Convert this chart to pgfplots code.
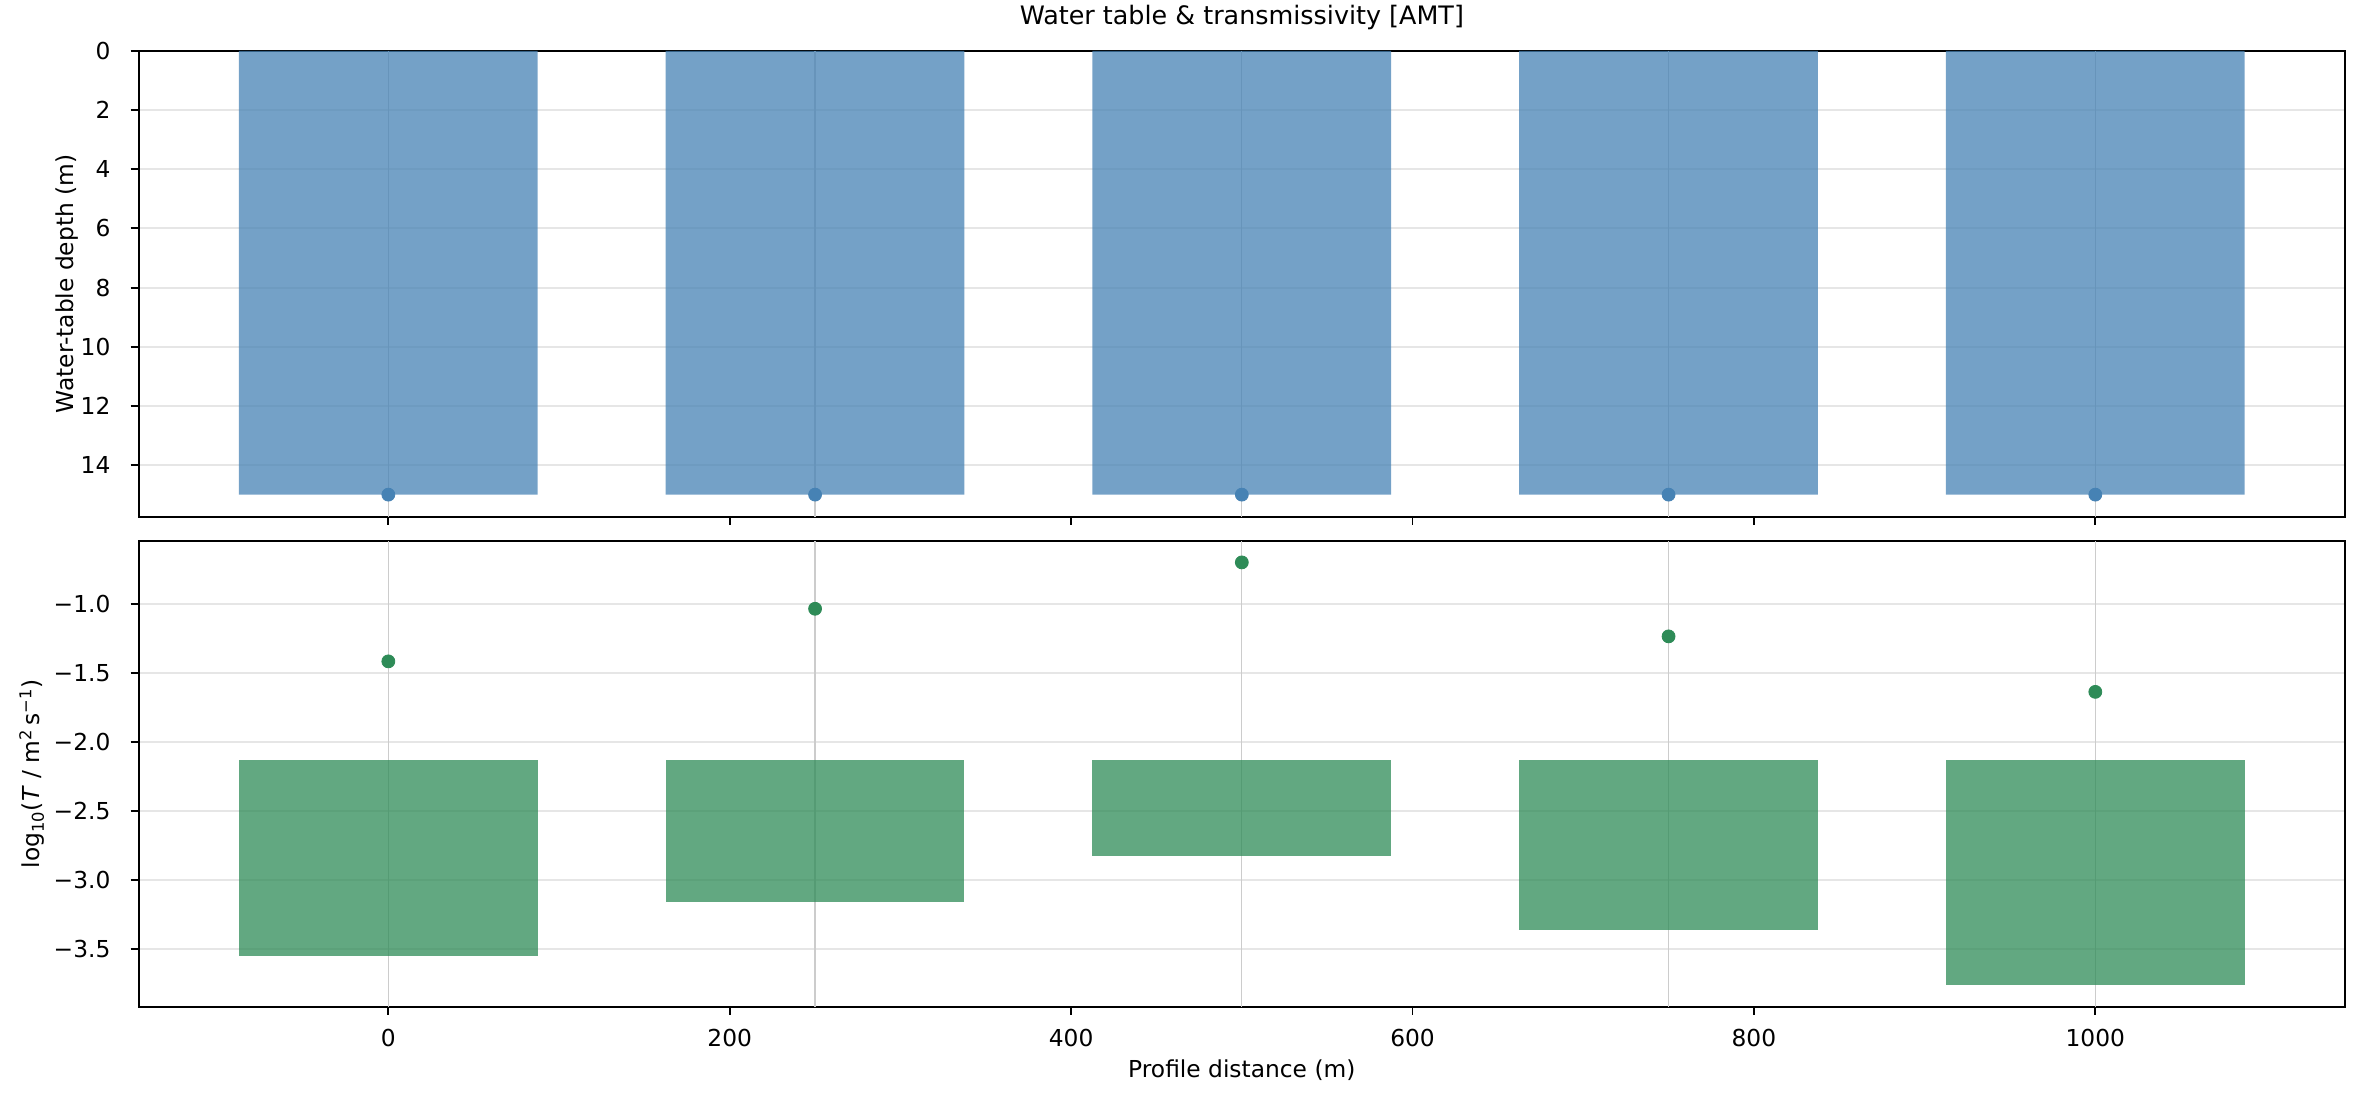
\documentclass[border=0pt]{standalone}
\usepackage{pgfplots}
\pgfplotsset{compat=1.18}
\usepackage{fontspec}
\setmainfont{DejaVu Sans}
\definecolor{steelblue}{RGB}{70,130,180}
\definecolor{seagreen}{RGB}{46,139,87}
\definecolor{gridc}{RGB}{230,230,230}
\definecolor{vlinec}{RGB}{204,204,204}
\newcommand\tf{\fontsize{11.2bp}{13.4bp}\selectfont}
\newcommand\ttf{\fontsize{12.2bp}{14.6bp}\selectfont}
\begin{document}
\begin{tikzpicture}
\useasboundingbox (-66.58bp,-44.78bp) rectangle (1066.22bp,483.22bp);
\pgfplotsset{
 common/.style={
  scale only axis, width=1059bp, height=223.6bp,
  xmin=-146.25, xmax=1146.25,
  axis line style={line width=0.9bp},
  every tick/.style={line width=0.9bp, black},
  tick align=outside, major tick length=3.9bp,
  xtick pos=left, ytick pos=left,
  xtick={0,200,400,600,800,1000},
  ymajorgrids, major grid style={gridc, line width=0.9bp},
  extra x ticks={0,250,500,750,1000},
  extra x tick labels={},
  extra x tick style={grid=major, major grid style={vlinec, line width=0.6bp}, major tick length=0pt},
  tick label style={font=\tf},
  xticklabel style={anchor=base, inner sep=0pt, yshift=-15.4bp},
  yticklabel style={anchor=east, inner sep=0pt, xshift=-9.5bp},
  /pgf/number format/assume math mode=true,
  every axis x label/.style={at={(axis description cs:0.5,0)}, anchor=base, inner sep=0pt, yshift=-34.1bp, font=\tf},
 }
}
\begin{axis}[common, at={(0,235.15bp)}, anchor=south west,
  y dir=reverse, ymin=0, ymax=15.75,
  ytick={0,2,4,6,8,10,12,14}, yticklabels={0,2,4,6,8,10,12,14},
  xticklabels={},
  every axis y label/.style={at={(axis description cs:-0.02965,0.5)}, rotate=90, anchor=base, inner sep=0pt, font=\tf},
  ylabel={Water-table depth (m)},
  title style={at={(axis description cs:0.5,1)}, anchor=base, inner sep=0pt, yshift=6.86bp, font=\ttf},
  title={Water table \& transmissivity [AMT]},
]
\addplot[ybar, bar width=175, bar shift=0, fill=steelblue, fill opacity=0.75, draw=none]
  coordinates {(0,15) (250,15) (500,15) (750,15) (1000,15)};
\addplot[only marks, mark=*, mark size=3.1bp, mark options={fill=steelblue, draw=steelblue}]
  coordinates {(0,15) (250,15) (500,15) (750,15) (1000,15)};
\end{axis}
\begin{axis}[common, at={(0,0)}, anchor=south west,
  ymin=-3.919, ymax=-0.544,
  ytick={-3.5,-3,-2.5,-2,-1.5,-1}, yticklabels={−3.5,−3.0,−2.5,−2.0,−1.5,−1.0},
  xticklabels={0,200,400,600,800,1000},
  every axis y label/.style={at={(axis description cs:-0.04495,0.5)}, rotate=90, anchor=base, inner sep=0pt, font=\tf},
  ylabel={log\textsubscript{10}(\textit{T} / m\textsuperscript{2}\,s\textsuperscript{−1})},
  xlabel={Profile distance (m)},
]
\addplot[fill=seagreen, fill opacity=0.75, draw=none] coordinates {(-87.5,-2.13) (87.5,-2.13) (87.5,-3.551) (-87.5,-3.551)};
\addplot[fill=seagreen, fill opacity=0.75, draw=none] coordinates {(162.5,-2.13) (337.5,-2.13) (337.5,-3.159) (162.5,-3.159)};
\addplot[fill=seagreen, fill opacity=0.75, draw=none] coordinates {(412.5,-2.13) (587.5,-2.13) (587.5,-2.826) (412.5,-2.826)};
\addplot[fill=seagreen, fill opacity=0.75, draw=none] coordinates {(662.5,-2.13) (837.5,-2.13) (837.5,-3.362) (662.5,-3.362)};
\addplot[fill=seagreen, fill opacity=0.75, draw=none] coordinates {(912.5,-2.13) (1087.5,-2.13) (1087.5,-3.761) (912.5,-3.761)};
\addplot[only marks, mark=*, mark size=3.1bp, mark options={fill=seagreen, draw=seagreen}]
  coordinates {(0,-1.417) (250,-1.036) (500,-0.700) (750,-1.236) (1000,-1.638)};
\end{axis}
\end{tikzpicture}
\end{document}
